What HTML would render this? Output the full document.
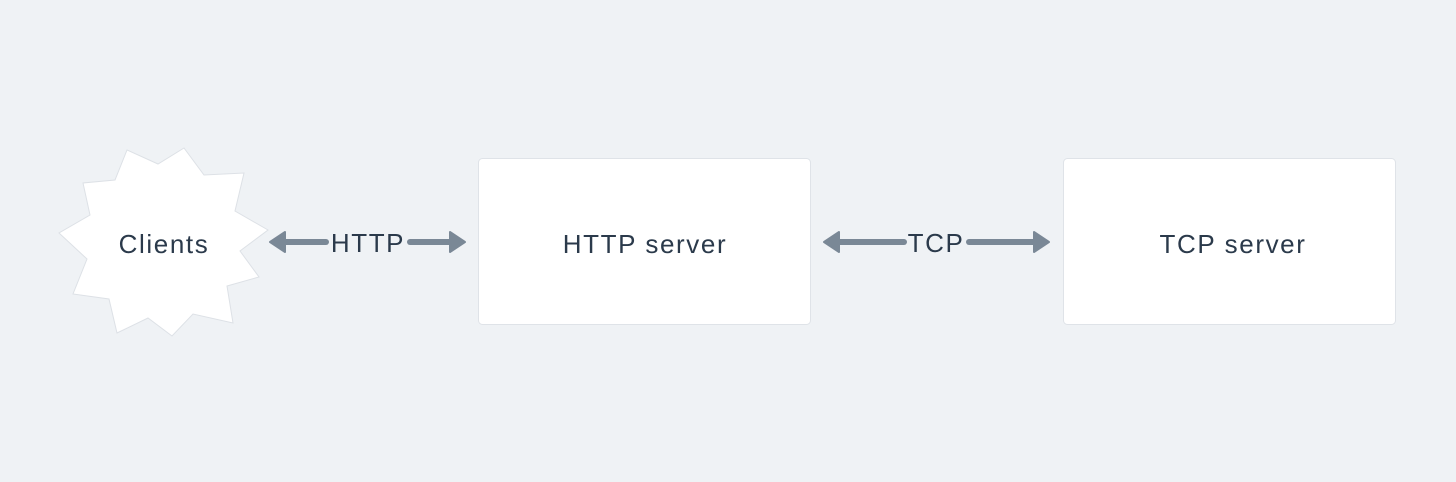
<!DOCTYPE html>
<html><head><style>
html,body{margin:0;padding:0;background:#eff2f5;}
svg{display:block}
text{font-family:"Liberation Sans",sans-serif;fill:#2b3a4b;font-size:26px;letter-spacing:1.6px;}
</style></head><body>
<svg width="1456" height="482" viewBox="0 0 1456 482" xmlns="http://www.w3.org/2000/svg">
<rect width="1456" height="482" fill="#eff2f5"/>
<polygon points="127,150 158,164 184,148 204,175 244,173 235,211 268,230 240,251 259,277 227,286 233,323 193,314 172,336 148,318 117,333 109,299 73,294 87,259 59,233 90,215 83,183 115,180" fill="#fff" stroke="#dde1e6" stroke-width="1"/>
<text x="164" y="253" text-anchor="middle">Clients</text>
<rect x="478.5" y="158.5" width="332" height="166" rx="4" fill="#fff" stroke="#dfe3e8"/>
<text x="645" y="253" text-anchor="middle">HTTP server</text>
<rect x="1063.5" y="158.5" width="332" height="166" rx="4" fill="#fff" stroke="#dfe3e8"/>
<text x="1233" y="253" text-anchor="middle">TCP server</text>
<g stroke="#7a8896" stroke-width="6" stroke-linecap="round" fill="#7a8896">
<line x1="282" y1="242" x2="326" y2="242"/>
<line x1="410" y1="242" x2="452" y2="242"/>
<line x1="836" y1="242" x2="904" y2="242"/>
<line x1="969" y1="242" x2="1037" y2="242"/>
</g>
<g fill="#7a8896" stroke="#7a8896" stroke-width="2" stroke-linejoin="round">
<polygon points="270,242 285,232 285,252"/>
<polygon points="465,242 450,232 450,252"/>
<polygon points="824,242 839,232 839,252"/>
<polygon points="1049,242 1034,232 1034,252"/>
</g>
<text x="368" y="252" text-anchor="middle">HTTP</text>
<text x="936" y="252" text-anchor="middle">TCP</text>
</svg>
</body></html>
